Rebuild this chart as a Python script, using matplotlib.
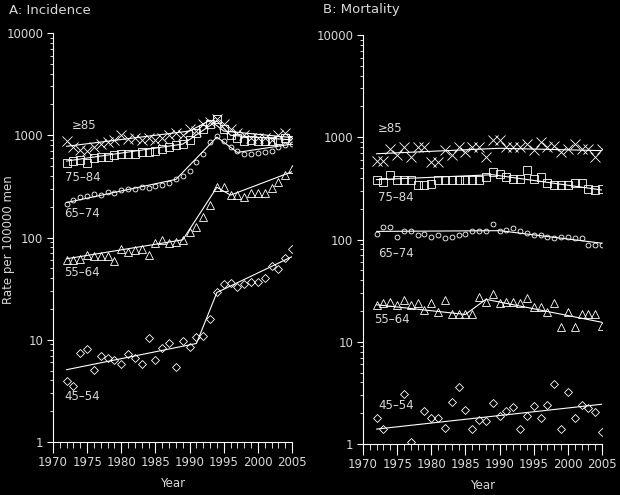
import numpy as np
import matplotlib
matplotlib.use("Agg")
import matplotlib.pyplot as plt
from matplotlib.ticker import FixedLocator, NullFormatter, FixedFormatter

# data, years 1972-2005
years = np.arange(1972, 2006)

inc_45 = [3.95, 3.5, 7.5, 8.2, 5.1, 6.9, 6.6, 6.3, 5.8, 7.2,
          6.6, 5.8, 10.4, 6.4, 8.4, 9.3, 5.4, 9.7, 8.5, 10.7,
          10.9, 15.9, 29, 34.8, 36, 33, 35.5, 36.4, 36.9, 40,
          52.9, 48.7, 62.5, 77]
inc_55 = [60, 60, 61, 67, 66, 66, 66, 59, 78, 72,
          75, 78, 67, 89, 94, 88, 91, 94, 114, 127,
          159, 207, 313, 313, 260, 260, 250, 270, 270, 270,
          302, 350, 407, 463]
inc_65 = [215, 235, 250, 255, 265, 260, 280, 275, 290, 300,
          295, 310, 305, 320, 330, 340, 370, 400, 450, 550,
          650, 850, 980, 880, 760, 700, 650, 660, 670, 690,
          700, 760, 800, 830]
inc_75 = [530, 560, 570, 530, 600, 610, 620, 640, 650, 660,
          650, 680, 690, 700, 730, 760, 800, 830, 900, 1050,
          1150, 1300, 1450, 1150, 1000, 950, 870, 900, 880, 870,
          880, 900, 950, 900]
inc_85 = [870, 760, 720, 700, 760, 820, 850, 900, 1000, 920,
          950, 900, 930, 900, 950, 1000, 1050, 1000, 1150, 1100,
          1300, 1350, 1450, 1300, 1150, 1050, 1000, 950, 950, 950,
          900, 1000, 1050, 950]

mort_45 = [1.78, 1.39, np.nan, np.nan, 3.1, 1.05, np.nan, 2.11, 1.78, 1.78,
           1.45, 2.55, 3.58, 2.15, 1.39, 1.7, 1.67, 2.53, 1.89, 2.11,
           2.3, 1.39, 1.89, 2.35, 1.78, 2.4, 3.83, 1.39, 3.2, 1.8,
           2.4, 2.25, 2.05, 1.3]
mort_55 = [22.8, 23.7, 24.5, 22.8, 25.5, 22.8, 23.7, 20.4, 23.7, 19.6,
           25.5, 18.6, 18.6, 18.6, 18.6, 27.5, 24.5, 29.2, 23.7, 24.5,
           24.5, 23.7, 26.5, 21.9, 21.9, 19.6, 23.7, 14, 19.6, 14,
           18.6, 18.6, 18.6, 14.2]
mort_65 = [114, 132, 132, 106, 121, 121, 110, 114, 106, 110,
           103, 106, 110, 114, 121, 121, 121, 143, 121, 125,
           130, 121, 117, 110, 110, 106, 103, 106, 106, 103,
           103, 88, 88, 88]
mort_75 = [378, 369, 424, 378, 385, 378, 338, 345, 350, 380,
           385, 385, 378, 378, 378, 378, 408, 456, 440, 410,
           390, 390, 474, 390, 410, 360, 345, 345, 345, 360,
           360, 314, 305, 314]
mort_85 = [590, 590, 773, 664, 800, 640, 800, 800, 571, 571,
           743, 664, 800, 715, 800, 800, 640, 930, 930, 800,
           800, 800, 863, 743, 900, 800, 820, 715, 770, 863,
           770, 770, 640, 770]

# joinpoint trend lines: (years, values)
inc_trends = [
    ([1972, 1991, 1994, 2005], [5.1, 9.2, 29, 65]),
    ([1972, 1989, 1994, 1996, 2005], [62, 95, 310, 260, 440]),
    ([1972, 1988, 1994, 1997, 2005], [220, 370, 960, 680, 820]),
    ([1972, 1989, 1994, 1996, 2005], [560, 820, 1380, 1000, 900]),
    ([1972, 1990, 1993, 1995, 2005], [780, 1100, 1400, 1100, 950]),
]
mort_trends = [
    ([1972, 2005], [1.4, 2.45]),
    ([1972, 1985, 1988, 2005], [23, 18.5, 26, 15.5]),
    ([1972, 1990, 2005], [120, 122, 92]),
    ([1972, 1989, 2005], [385, 430, 305]),
    ([1972, 1990, 2005], [690, 780, 740]),
]

group_names = ["45\u201354", "55\u201364", "65\u201374", "75\u201384", "\u226585"]
markers = ["D", "^", "o", "s", "x"]
msizes = [4, 6, 3.5, 6, 7]

inc_label_pos = [(1971.7, 2.8), (1971.7, 45), (1971.7, 173), (1971.7, 390), (1972.8, 1250)]
mort_label_pos = [(1972.2, 2.37), (1971.6, 16.5), (1972.2, 73), (1972.2, 258), (1972.2, 1220)]

fg = "white"
txt = "#d8d8d8"

plt.rcParams["font.family"] = ["DejaVu Sans"]
fig = plt.figure(figsize=(6.2, 4.95), dpi=100, facecolor="black")

ax1 = fig.add_axes([0.0855, 0.107, 0.3855, 0.8263])
ax2 = fig.add_axes([0.5855, 0.103, 0.3855, 0.8263])


def draw_panel(ax, series, trends, label_pos):
    ax.set_facecolor("black")
    for vals, (ty, tv), m, ms, name, lp in zip(series, trends, markers, msizes,
                                               group_names, label_pos):
        ax.plot(years, vals, linestyle="none", marker=m, markersize=ms,
                markerfacecolor="none", markeredgecolor=fg, markeredgewidth=0.6)
        ax.plot(ty, tv, color=fg, linewidth=0.8)
        ax.text(lp[0], lp[1], name, color=txt, fontsize=8.5, va="center")
    ax.set_yscale("log")
    ax.set_xlim(1970, 2005)
    ax.set_ylim(1, 10000)
    ax.set_xticks(np.arange(1970, 2006, 5))
    ax.set_xticks(np.arange(1970, 2006, 1), minor=True)
    ax.yaxis.set_major_locator(FixedLocator([1, 10, 100, 1000, 10000]))
    ax.yaxis.set_major_formatter(FixedFormatter(["1", "10", "100", "1000", "10000"]))
    minors = [m * 10 ** e for e in range(4) for m in range(2, 10)]
    ax.yaxis.set_minor_locator(FixedLocator(minors))
    ax.yaxis.set_minor_formatter(NullFormatter())
    for s in ["top", "right"]:
        ax.spines[s].set_visible(False)
    for s in ["left", "bottom"]:
        ax.spines[s].set_color(fg)
        ax.spines[s].set_linewidth(0.8)
    ax.tick_params(axis="x", which="major", length=8, width=0.8, colors=fg,
                   labelcolor=txt, labelsize=8.5, pad=2)
    ax.tick_params(axis="x", which="minor", length=4, width=0.6, colors=fg)
    ax.tick_params(axis="y", which="major", length=4, width=0.8, colors=fg,
                   labelcolor=txt, labelsize=8.5, pad=3)
    ax.tick_params(axis="y", which="minor", length=2, width=0.6, colors=fg)
    ax.set_xlabel("Year", color=txt, fontsize=8.5, labelpad=6)


draw_panel(ax1, [inc_45, inc_55, inc_65, inc_75, inc_85], inc_trends, inc_label_pos)
draw_panel(ax2, [mort_45, mort_55, mort_65, mort_75, mort_85], mort_trends, mort_label_pos)

fig.text(9 / 620, 1 - 10 / 495, "A: Incidence", color=txt, fontsize=9.5,
         ha="left", va="center")
fig.text(323 / 620, 1 - 10 / 495, "B: Mortality", color=txt, fontsize=9.5,
         ha="left", va="center")
fig.text(9 / 620, 1 - 240 / 495, "Rate per 100000 men", color=txt, fontsize=8.5,
         rotation=90, ha="center", va="center")

fig.savefig("out.png", dpi=100, facecolor="black")
